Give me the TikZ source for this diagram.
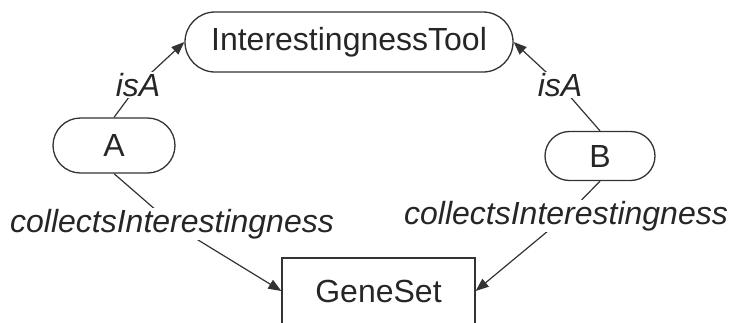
\documentclass[tikz,border=0pt]{standalone}
\usepackage{fontspec}
\setmainfont{Liberation Sans}
\usetikzlibrary{arrows.meta,shapes.misc,backgrounds}
\begin{document}
\begin{tikzpicture}[x=1pt,y=-1pt,
  every node/.style={font=\fontsize{32}{38}\selectfont, text=black!85},
  cls/.style={draw=black!80, line width=1.3pt, rounded rectangle, inner sep=0pt},
  box/.style={draw=black!80, line width=1.3pt, rectangle, inner sep=0pt},
  lbl/.style={fill=white, inner sep=1pt, font=\fontsize{32}{38}\selectfont\itshape},
  link/.style={draw=black!80, line width=1.2pt},
  tip/.style={-{Triangle[length=13pt,width=10pt]}}]
\useasboundingbox (0,0) rectangle (731,322);

% classes
\node[cls, minimum width=328pt, minimum height=60pt] (tool) at (349,42) {InterestingnessTool};
\node[cls, minimum width=122pt, minimum height=55pt] (a) at (114,145.5) {A};
\node[cls, minimum width=110pt, minimum height=49pt] (b) at (600,156) {B};
\node[box, minimum width=193pt, minimum height=66pt] (gene) at (378.5,291) {GeneSet};

% relation labels
\node[lbl] (isaL) at (138,85) {isA};
\node[lbl] (isaR) at (560,85) {isA};
\node[lbl] (colL) at (172,224) {collectsInterestingness};
\node[lbl] (colR) at (566,216) {collectsInterestingness};

% relations, drawn beneath their labels
\begin{scope}[on background layer]
  \draw[link,tip] (a.north) -- (isaL.center) -- (tool.west);
  \draw[link,tip] (b.north) -- (isaR.center) -- (tool.east);
  \draw[link,tip] (a.south) -- (colL.center) -- (gene.west);
  \draw[link,tip] (b.south) -- (colR.center) -- (gene.east);
\end{scope}
\end{tikzpicture}
\end{document}
